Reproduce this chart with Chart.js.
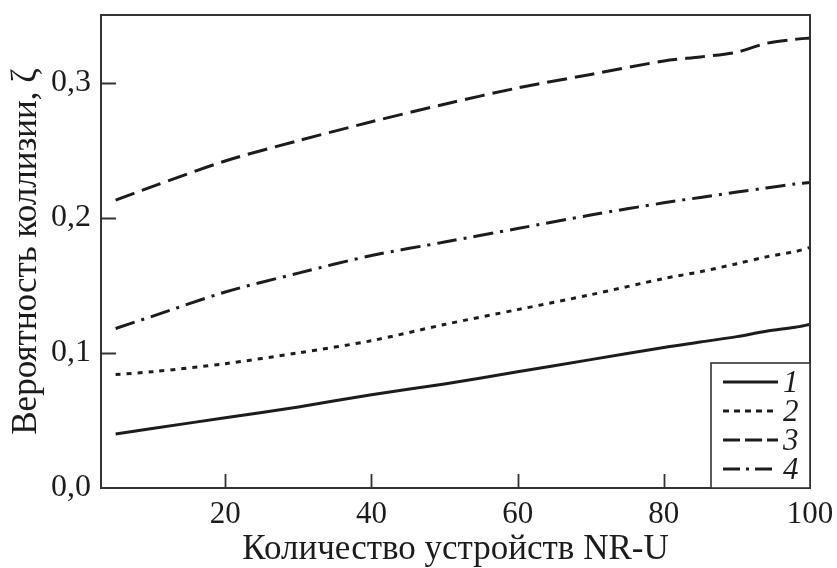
<!DOCTYPE html>
<html lang="ru">
<head>
    <meta charset="UTF-8">
    <title>Вероятность коллизии</title>
    <script src="https://cdn.jsdelivr.net/npm/chart.js"></script>
    <style>
        html, body { margin: 0; padding: 0; background: #fff; }
        #wrap { width: 837px; height: 568px; }
    </style>
</head>
<body>
    <div id="wrap"><canvas id="collisionChart"></canvas></div>

    <script>
        // Число устройств NR-U (ось X)
        const devices = [5, 10, 20, 30, 40, 50, 60, 70, 80, 85, 90, 94, 98, 100];

        // Вероятность коллизии для четырёх кривых
        const curve1 = [0.040, 0.044, 0.052, 0.060, 0.069, 0.077, 0.086, 0.095, 0.104, 0.108, 0.112, 0.116, 0.119, 0.121];
        const curve2 = [0.084, 0.086, 0.092, 0.100, 0.109, 0.121, 0.132, 0.143, 0.155, 0.160, 0.166, 0.171, 0.175, 0.178];
        const curve3 = [0.213, 0.223, 0.242, 0.257, 0.271, 0.284, 0.296, 0.306, 0.316, 0.319, 0.3225, 0.329, 0.332, 0.333];
        const curve4 = [0.118, 0.127, 0.145, 0.159, 0.172, 0.182, 0.192, 0.202, 0.211, 0.215, 0.219, 0.222, 0.225, 0.226];

        const curveLabels = ['1', '2', '3', '4'];
        const xTicks = [20, 40, 60, 80, 100];
        const yTicks = [0, 0.1, 0.2, 0.3];

        const ink = '#1c1c1c';
        const serif = '"Liberation Serif", "Times New Roman", serif';

        const dashes = [[], [5, 6], [20, 8], [20, 7, 3, 7]];

        function toPoints(values) {
            return values.map((v, i) => ({ x: devices[i], y: v }));
        }

        // Рамка вокруг поля графика и внутренние засечки
        const frameAndTicks = {
            id: 'frameAndTicks',
            afterDatasetsDraw(chart) {
                const { ctx, chartArea: a, scales } = chart;
                ctx.save();
                ctx.strokeStyle = '#333';
                ctx.lineWidth = 2;
                ctx.strokeRect(a.left, a.top, a.right - a.left, a.bottom - a.top);
                ctx.lineWidth = 1.8;
                ctx.beginPath();
                xTicks.forEach(v => {
                    if (v >= scales.x.max) return;
                    const px = Math.round(scales.x.getPixelForValue(v)) + 0.5;
                    ctx.moveTo(px, a.bottom);
                    ctx.lineTo(px, a.bottom - 14);
                });
                yTicks.forEach(v => {
                    if (v <= scales.y.min) return;
                    const py = Math.round(scales.y.getPixelForValue(v)) + 0.5;
                    ctx.moveTo(a.left, py);
                    ctx.lineTo(a.left + 15, py);
                });
                ctx.stroke();
                ctx.restore();
            }
        };

        // Легенда в правом нижнем углу поля графика
        const cornerLegend = {
            id: 'cornerLegend',
            afterDatasetsDraw(chart) {
                const { ctx, chartArea: a } = chart;
                const w = 99, h = 125;
                const left = a.right - w, top = a.bottom - h;
                ctx.save();
                ctx.fillStyle = '#fff';
                ctx.fillRect(left, top, w, h);
                ctx.strokeStyle = '#333';
                ctx.lineWidth = 1.6;
                ctx.strokeRect(left, top, w, h);
                chart.data.datasets.forEach((ds, i) => {
                    const y = top + 19 + i * 29;
                    ctx.strokeStyle = ink;
                    ctx.lineWidth = 3;
                    ctx.setLineDash(i === 1 ? [6, 5] : i === 2 ? [17, 5] : i === 3 ? [17, 6, 3, 6] : []);
                    ctx.beginPath();
                    ctx.moveTo(left + 12, y);
                    ctx.lineTo(left + 67, y);
                    ctx.stroke();
                    ctx.setLineDash([]);
                    ctx.fillStyle = ink;
                    ctx.font = 'italic 31px ' + serif;
                    ctx.textBaseline = 'middle';
                    ctx.textAlign = 'left';
                    ctx.fillText(ds.label, left + 72, y + 2);
                });
                ctx.restore();
            }
        };

        const ctx = document.getElementById('collisionChart').getContext('2d');

        new Chart(ctx, {
            type: 'line',
            data: {
                datasets: [curve1, curve2, curve3, curve4].map((vals, i) => ({
                    label: curveLabels[i],
                    data: toPoints(vals),
                    borderColor: ink,
                    borderWidth: 3,
                    borderDash: dashes[i],
                    pointRadius: 0,
                    tension: 0.3,
                    fill: false
                }))
            },
            options: {
                responsive: true,
                maintainAspectRatio: false,
                animation: false,
                layout: { padding: { top: 15, right: 27, left: 0, bottom: 0 } },
                plugins: {
                    legend: { display: false },
                    tooltip: { enabled: false }
                },
                scales: {
                    x: {
                        type: 'linear',
                        min: 3,
                        max: 100,
                        afterFit(scale) {
                            scale.height = 80;
                            scale.paddingLeft = 0;
                            scale.paddingRight = 0;
                        },
                        afterBuildTicks(scale) { scale.ticks = xTicks.map(v => ({ value: v })); },
                        grid: { display: false, drawTicks: false },
                        border: { display: false },
                        ticks: {
                            color: ink,
                            padding: 8,
                            maxRotation: 0,
                            font: { family: serif, size: 31 },
                            callback: v => String(v)
                        },
                        title: {
                            display: true,
                            text: 'Количество устройств NR-U',
                            color: ink,
                            font: { family: serif, size: 35, lineHeight: 1 },
                            padding: { top: 0, bottom: 1 }
                        }
                    },
                    y: {
                        min: 0,
                        max: 0.35,
                        afterFit(scale) {
                            scale.width = 101;
                            scale.paddingTop = 0;
                            scale.paddingBottom = 0;
                        },
                        afterBuildTicks(scale) { scale.ticks = yTicks.map(v => ({ value: v })); },
                        grid: { display: false, drawTicks: false },
                        border: { display: false },
                        ticks: {
                            color: ink,
                            padding: 10,
                            font: { family: serif, size: 32 },
                            callback: v => v.toFixed(1).replace('.', ',')
                        },
                        title: {
                            display: true,
                            text: 'Вероятность коллизии, ζ',
                            color: ink,
                            font: { family: serif, size: 35, lineHeight: 1 },
                            padding: { top: 9, bottom: 0 }
                        }
                    }
                }
            },
            plugins: [frameAndTicks, cornerLegend]
        });
    </script>
</body>
</html>
